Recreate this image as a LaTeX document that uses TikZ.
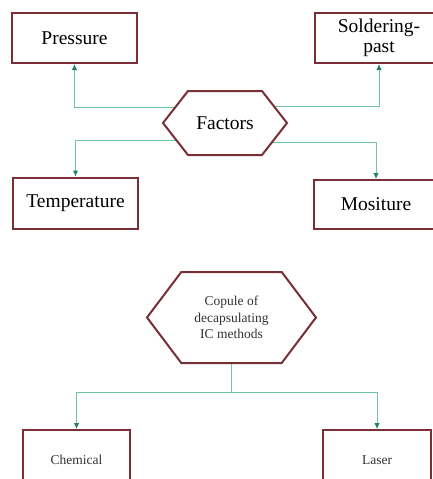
\documentclass[tikz,border=0pt]{standalone}
\usepackage{fontspec}
\setmainfont{Liberation Serif}
\usetikzlibrary{shapes.symbols,arrows.meta,backgrounds,calc}
\definecolor{boxred}{RGB}{122,46,54}
\definecolor{linegreen}{RGB}{110,196,160}
\definecolor{tipgreen}{RGB}{30,130,90}
\begin{document}
\begin{tikzpicture}[x=1pt,y=-1pt,
 box/.style={draw=boxred,line width=2pt,fill=white,inner sep=0pt},
 hexa/.style={draw=boxred,line width=2pt,fill=white,shape=signal,signal to=east and west,inner sep=0pt},
 conn/.style={draw=linegreen,line width=1pt,-{Latex[length=6pt,width=5.5pt,color=tipgreen]}},
 plain/.style={draw=linegreen,line width=1pt},
 big/.style={font=\fontsize{19.5}{20}\selectfont},
 small/.style={font=\fontsize{13.5}{16.5}\selectfont,text=black!80}]
\useasboundingbox (0,0) rectangle (433,479);
\clip (0,0) rectangle (433,479);
% top part
\node[box,big,minimum width=125pt,minimum height=50pt] (P) at (74.5,38) {Pressure};
\node[box,big,minimum width=128pt,minimum height=50pt,align=center] (S) at (379,38) {Soldering-\\past};
\node[box,big,minimum width=125pt,minimum height=51pt] (T) at (75.5,203) {Temperature};
\node[box,big,minimum width=124pt,minimum height=49pt] (M) at (376,204.5) {Mositure};
\node[hexa,big,minimum width=124pt,minimum height=64pt,signal pointer angle=104] (F) at (225,123) {Factors};
% bottom part
\node[hexa,small,minimum width=169pt,minimum height=91pt,signal pointer angle=106,align=center] (C) at (231.5,317.5) {Copule of\\decapsulating\\IC methods};
\node[box,small,minimum width=107pt,minimum height=60pt] (Ch) at (76.5,460) {Chemical};
\node[box,small,minimum width=108pt,minimum height=60pt] (L) at (377,460) {Laser};
\begin{scope}[on background layer]
\draw[conn] ([yshift=16pt]F.center) -| (P.south);
\draw[conn] ([yshift=17pt]F.center) -| (S.south);
\draw[conn] ([yshift=-17pt]F.center) -| (T.north);
\draw[conn] ([yshift=-19pt]F.center) -| (M.north);
\draw[plain] (C.south) -- ++(0,28) coordinate (J);
\draw[conn] (J) -| (Ch.north);
\draw[conn] (J) -| (L.north);
\end{scope}
\end{tikzpicture}
\end{document}
